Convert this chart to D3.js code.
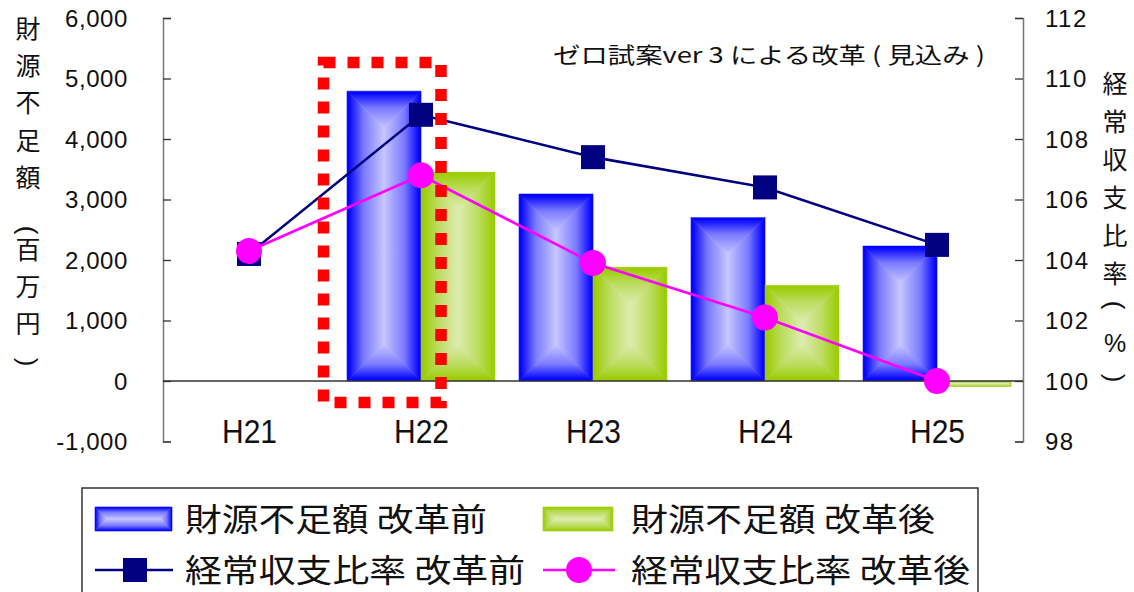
<!DOCTYPE html>
<html>
<head>
<meta charset="utf-8">
<script src="https://cdn.jsdelivr.net/npm/d3@7/dist/d3.min.js"></script>
<style>
  body { margin: 0; background: #fff; }
  text { font-family: "Liberation Sans", Arial, sans-serif; }
  .jp { font-family: "Noto Sans CJK JP", sans-serif; }
</style>
</head>
<body>
<svg id="chart" width="1134" height="592"></svg>
<script>
const categories = ["H21", "H22", "H23", "H24", "H25"]
const shortfallBefore = [null, 4790, 3090, 2700, 2230]
const shortfallAfter = [null, 3450, 1880, 1580, -90]
const ratioBefore = [104.2, 108.8, 107.4, 106.4, 104.5]
const ratioAfter = [104.3, 106.8, 103.9, 102.1, 100.0]
const leftTicks = [-1000, 0, 1000, 2000, 3000, 4000, 5000, 6000]
const rightTicks = [98, 100, 102, 104, 106, 108, 110, 112]

const plotLeft = 163, plotRight = 1023, plotTop = 18, plotBottom = 441.5

const svg = d3.select("#chart")
const defs = svg.append("defs")

// box style gradient: one linear gradient for each side of the bar
function boxGradients(name, stops) {
  const dirs = {
    l: [0, 0, 1, 0], r: [1, 0, 0, 0], t: [0, 0, 0, 1], b: [0, 1, 0, 0]
  }
  Object.entries(dirs).forEach(([k, d]) => {
    const g = defs.append("linearGradient").attr("id", name + "-" + k)
      .attr("x1", d[0]).attr("y1", d[1]).attr("x2", d[2]).attr("y2", d[3])
    stops.forEach(s => g.append("stop").attr("offset", s[0]).attr("stop-color", s[1]))
  })
}
boxGradients("blue", [[0, "#0000ff"], [0.06, "#0808ff"], [0.45, "#7a7aff"], [1, "#c6c6ff"]])
boxGradients("green", [[0, "#99cc00"], [0.06, "#9ccd08"], [0.45, "#bcdc60"], [1, "#deecae"]])

function drawBox(g, x, y, w, h, name) {
  const m = Math.min(w, h) / 2
  const pts = {
    l: [[x, y], [x + m, y + m], [x + m, y + h - m], [x, y + h]],
    r: [[x + w, y], [x + w - m, y + m], [x + w - m, y + h - m], [x + w, y + h]],
    t: [[x, y], [x + w, y], [x + w - m, y + m], [x + m, y + m]],
    b: [[x, y + h], [x + w, y + h], [x + w - m, y + h - m], [x + m, y + h - m]]
  }
  Object.entries(pts).forEach(([k, p]) => {
    g.append("polygon")
      .attr("points", p.map(q => q.join(",")).join(" "))
      .attr("fill", `url(#${name}-${k})`)
      .attr("stroke", `url(#${name}-${k})`)
      .attr("stroke-width", 0.6)
  })
}

const x0 = d3.scaleBand().domain(categories).range([plotLeft, plotRight])
  .paddingInner(0.14).paddingOuter(0.07)
const x1 = d3.scaleBand().domain(["before", "after"]).range([0, x0.bandwidth()])
const yL = d3.scaleLinear().domain([-1000, 6000]).range([plotBottom, plotTop])
const yR = d3.scaleLinear().domain([98, 112]).range([plotBottom, plotTop])
const cx = c => x0(c) + x0.bandwidth() / 2

// bars
const bars = svg.append("g")
categories.forEach((c, i) => {
  [["before", shortfallBefore[i], "blue"], ["after", shortfallAfter[i], "green"]].forEach(([s, v, col]) => {
    if (v == null) return
    const ya = yL(Math.max(v, 0)), yb = yL(Math.min(v, 0))
    drawBox(bars, x0(c) + x1(s), ya, x1.bandwidth(), yb - ya, col)
  })
})

// axes
const axL = svg.append("g").attr("transform", `translate(${plotLeft},0)`)
  .call(d3.axisRight(yL).tickValues(leftTicks).tickSize(8).tickFormat(() => ""))
axL.select(".domain").attr("stroke", "#777").attr("stroke-width", 1.5)
axL.selectAll(".tick line").attr("stroke", "#333").attr("stroke-width", 1.3)
svg.append("g").selectAll("text").data(leftTicks).join("text")
  .attr("x", 128).attr("y", d => yL(d)).attr("dy", "0.36em")
  .attr("text-anchor", "end").attr("font-size", 24).attr("letter-spacing", 0.6)
  .attr("fill", "#111")
  .text(d => d < 0 ? "-" + d3.format(",")(-d) : d3.format(",")(d))

const axR = svg.append("g").attr("transform", `translate(${plotRight},0)`)
  .call(d3.axisLeft(yR).tickValues(rightTicks).tickSize(8).tickFormat(() => ""))
axR.select(".domain").attr("stroke", "#777").attr("stroke-width", 1.5)
axR.selectAll(".tick line").attr("stroke", "#333").attr("stroke-width", 1.3)
svg.append("g").selectAll("text").data(rightTicks).join("text")
  .attr("x", 1045).attr("y", d => yR(d)).attr("dy", "0.36em")
  .attr("font-size", 24).attr("letter-spacing", 1.5).attr("fill", "#111")
  .text(d => d)

// zero line
svg.append("line").attr("x1", plotLeft).attr("x2", plotRight)
  .attr("y1", yL(0)).attr("y2", yL(0)).attr("stroke", "#333").attr("stroke-width", 1.5)

// category labels
svg.append("g").selectAll("text").data(categories).join("text")
  .attr("x", d => cx(d) - 27).attr("y", 431).attr("dy", "0.36em")
  .attr("font-size", 34).attr("textLength", 55).attr("lengthAdjust", "spacingAndGlyphs")
  .attr("fill", "#111").text(d => d)

// lines
function series(vals, color, marker) {
  const pts = vals.map((v, i) => [cx(categories[i]), yR(v)])
  svg.append("path").attr("d", d3.line()(pts)).attr("fill", "none")
    .attr("stroke", color).attr("stroke-width", 2.6)
  pts.forEach(p => marker(svg, p[0], p[1]))
}
const square = (g, x, y) => g.append("rect").attr("x", x - 12).attr("y", y - 12)
  .attr("width", 24).attr("height", 24).attr("fill", "#000080")
const circle = (g, x, y) => g.append("circle").attr("cx", x).attr("cy", y)
  .attr("r", 13).attr("fill", "#ff00ff")
series(ratioBefore, "#000080", square)
series(ratioAfter, "#ff00ff", circle)

// red highlight around H22
svg.append("rect").attr("x", 323.5).attr("y", 62.5).attr("width", 117.5).attr("height", 340)
  .attr("fill", "none").attr("stroke", "#ff0000").attr("stroke-width", 11.5)
  .attr("stroke-dasharray", "12 12")

// title
svg.append("text").attr("class", "jp").attr("x", 553).attr("y", 55).attr("dy", "0.36em")
  .attr("font-size", 22).attr("textLength", 432).attr("lengthAdjust", "spacingAndGlyphs")
  .attr("fill", "#111").text("ゼロ試案ver 3 による改革 ( 見込み )")

// vertical axis titles
function vtitle(items, x) {
  items.forEach(([ch, y]) => {
    if (ch === "(" || ch === ")") {
      svg.append("text").attr("transform", `translate(${x},${y}) rotate(90)`)
        .attr("text-anchor", "middle").attr("dy", "0.33em").attr("font-size", 26)
        .attr("fill", "#111").text(ch)
    } else {
      svg.append("text").attr("class", ch === "%" ? "" : "jp").attr("x", x).attr("y", y)
        .attr("text-anchor", "middle").attr("dy", "0.36em").attr("font-size", 25)
        .attr("fill", "#111").text(ch)
    }
  })
}
vtitle([["財", 29], ["源", 66], ["不", 103], ["足", 141], ["額", 178], ["(", 230],
  ["百", 250], ["万", 287], ["円", 324], [")", 362]], 28)
vtitle([["経", 84], ["常", 122], ["収", 160], ["支", 198], ["比", 236], ["率", 274],
  ["(", 305], ["%", 343], [")", 378]], 1115)

// legend
const lg = svg.append("g")
lg.append("rect").attr("x", 82).attr("y", 488).attr("width", 896).attr("height", 120)
  .attr("fill", "#fff").attr("stroke", "#333").attr("stroke-width", 1.5)
drawBox(lg, 95, 507, 77, 24, "blue")
drawBox(lg, 543, 507, 70, 24, "green")
lg.append("line").attr("x1", 95).attr("x2", 173).attr("y1", 570).attr("y2", 570)
  .attr("stroke", "#000080").attr("stroke-width", 2.6)
square(lg, 135, 570)
lg.append("line").attr("x1", 543).attr("x2", 615).attr("y1", 570).attr("y2", 570)
  .attr("stroke", "#ff00ff").attr("stroke-width", 2.6)
circle(lg, 579, 570)
const legendText = [
  ["財源不足額 改革前", 185, 519, 302], ["財源不足額 改革後", 631, 519, 304],
  ["経常収支比率 改革前", 185, 570, 340], ["経常収支比率 改革後", 631, 570, 339]
]
legendText.forEach(([t, x, y, w]) => {
  lg.append("text").attr("class", "jp").attr("x", x).attr("y", y).attr("dy", "0.36em")
    .attr("font-size", 32).attr("textLength", w).attr("lengthAdjust", "spacingAndGlyphs")
    .attr("fill", "#111").text(t)
})
</script>
</body>
</html>
